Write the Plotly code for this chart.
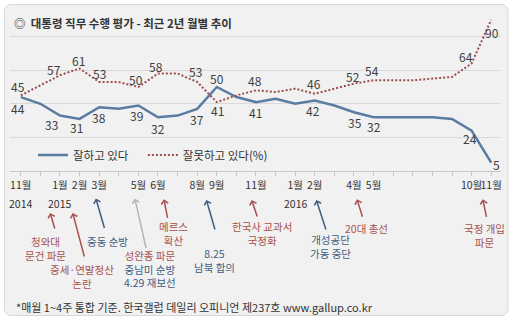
import plotly.graph_objects as go

# ---------------- data ----------------
months = ["2014-11", "2014-12", "2015-01", "2015-02", "2015-03", "2015-04", "2015-05",
          "2015-06", "2015-07", "2015-08", "2015-09", "2015-10", "2015-11", "2015-12",
          "2016-01", "2016-02", "2016-03", "2016-04", "2016-05", "2016-06", "2016-07",
          "2016-08", "2016-09", "2016-10", "2016-11"]
approve = [44, 40, 33, 31, 38, 37, 39, 32, 33, 37, 50, 44, 41, 43, 40, 42, 39, 35, 32,
           32, 32, 32, 31, 24, 5]
disapprove = [45, 51, 57, 61, 53, 53, 50, 58, 58, 53, 41, 45, 48, 47, 49, 46, 49, 52, 54,
              54, 54, 55, 56, 64, 90]
tick_labels = ["11월", "", "1월", "2월", "3월", "", "5월", "6월", "", "8월", "9월", "",
               "11월", "", "1월", "2월", "", "4월", "5월", "", "", "", "", "10월", "11월"]
year_ticks = [0, 2, 14]
year_labels = ["2014", "2015", "2016"]
labeled_idx = [0, 2, 3, 4, 6, 7, 9, 10, 12, 15, 17, 18, 23, 24]
series_names = ["잘하고 있다", "잘못하고 있다(%)"]
title_text = "◎  대통령 직무 수행 평가 - 최근 2년 월별 추이"
footer_text = "*매월 1~4주 통합 기준. 한국갤럽 데일리 오피니언 제237호 www.gallup.co.kr"

# events: (month position, text lines, line colour keys, arrow colour key)
event_pos = [1.5, 2.65, 3.83, 5.82, 7.3, 9.47, 11.78, 15.08, 17.15, 23.57]
event_lines = [["청와대", "문건 파문"], ["증세·연말정산", "논란"], ["중동 순방"],
               ["성완종 파문", "중남미 순방", "4.29 재보선"], ["메르스", "확산"],
               ["8.25", "남북 합의"], ["한국사 교과서", "국정화"], ["개성공단", "가동 중단"],
               ["20대 총선"], ["국정 개입", "파문"]]
event_line_kind = [["r", "r"], ["r", "r"], ["b"], ["r", "b", "b"], ["r", "r"], ["b", "b"],
                   ["r", "r"], ["b", "b"], ["r"], ["r", "r"]]
event_arrow_kind = ["r", "r", "b", "g", "r", "b", "r", "b", "r", "r"]

# ---------------- styling / layout geometry (pixels) ----------------
W, H = 516, 326
ML, MR, MT, MB = 10, 14.5, 3, 155
PW = W - ML - MR
PH = H - MT - MB
XR = [-0.55, 24.5]
YR = [0, 100]

C_APP = "#5a7ba2"
C_DIS = "#9d4c4c"
C_TXT = "#404040"
KIND_COL = {"r": "#a5514d", "b": "#3f5d83", "g": "#b4b4b4"}
FONT = "Noto Sans CJK KR"
EV_FONT = 10.5
EV_LINE_H = 13.65

def px(xp):
    return (xp - ML) / PW

def py(yp):
    return (MT + PH - yp) / PH

# label offsets in pixels (dx, dy down)
app_off = [(-3, 11), (-8, 9), (-3, 9), (0, 10), (-2, 10), (0, 11), (0, 11), (0, -9),
           (0, 10), (-2, 10), (1, 10), (0, 9), (-2, 8), (5, 2)]
dis_off = [(-3, -9), (-6, -6), (-1, -8), (0, -8), (-2, -8), (-2, -7), (-2, -10), (1, 8),
           (-1, -10), (-1, -10), (-1, -7), (-2, -10), (-6, -7), (1, 13)]

# event geometry: head y (px), tail offset (ax, ay), text dx, first text line centre y
ev_head_y = [213, 213, 198.5, 198.5, 199.3, 200, 200, 200, 199.3, 199.3]
ev_tail = [(5, 17), (12, 45), (9, 31), (11.5, 51), (4, 20), (9, 31), (6, 18), (10, 31),
           (6, 19), (4, 19)]
ev_text_dx = [-5, 9, 12, 15, 10, 8, 10, 14, 10, 2]
ev_text_y = [241.7, 270, 241.7, 255.3, 226.7, 253.3, 226.7, 240, 228.3, 228.3]

x = list(range(len(months)))

fig = go.Figure()
fig.add_trace(go.Scatter(x=x, y=approve, mode="lines", name=series_names[0],
                         line=dict(color=C_APP, width=2.5), hoverinfo="skip",
                         legend="legend"))
fig.add_trace(go.Scatter(x=x, y=disapprove, mode="lines", name=series_names[1],
                         line=dict(color=C_DIS, width=2, dash="2px,2px"), hoverinfo="skip",
                         legend="legend2"))

ann = []
for k, i in enumerate(labeled_idx):
    dx, dy = app_off[k]
    ann.append(dict(x=x[i], y=approve[i], xref="x", yref="y", text=str(approve[i]),
                    showarrow=False, xshift=dx, yshift=-dy,
                    font=dict(size=12, color=C_TXT, family=FONT)))
    dx, dy = dis_off[k]
    ann.append(dict(x=x[i], y=disapprove[i], xref="x", yref="y", text=str(disapprove[i]),
                    showarrow=False, xshift=dx, yshift=-dy,
                    font=dict(size=12, color=C_TXT, family=FONT)))

for t, lab in zip(year_ticks, year_labels):
    ann.append(dict(x=x[t], y=py(203.3), xref="x", yref="paper", text=lab, showarrow=False,
                    font=dict(size=10.5, color="#333333", family=FONT), yanchor="middle"))

for e in range(len(event_pos)):
    hy = ev_head_y[e]
    ax_, ay_ = ev_tail[e]
    ann.append(dict(x=event_pos[e], y=py(hy), xref="x", yref="paper", text="",
                    showarrow=True, arrowhead=4, arrowsize=0.9, arrowwidth=1.5,
                    arrowcolor=KIND_COL[event_arrow_kind[e]], ax=ax_, ay=ay_,
                    axref="pixel", ayref="pixel", standoff=0, startstandoff=0))
    lines = event_lines[e]
    txt = "<br>".join(f"<span style='color:{KIND_COL[k]}'>{ln}</span>"
                      for ln, k in zip(lines, event_line_kind[e]))
    centre = ev_text_y[e] + (len(lines) - 1) * EV_LINE_H / 2
    ann.append(dict(x=event_pos[e], y=py(centre), xref="x", yref="paper", text=txt,
                    showarrow=False, xshift=ev_text_dx[e], yanchor="middle",
                    xanchor="center", align="center",
                    font=dict(size=EV_FONT, color=KIND_COL[event_line_kind[e][0]],
                              family=FONT)))

ann.append(dict(x=px(12), y=py(23), xref="paper", yref="paper", text="<b>" + title_text + "</b>",
                showarrow=False, xanchor="left", yanchor="middle",
                font=dict(size=11.5, color="#333333", family=FONT)))
ann.append(dict(x=px(14), y=py(306.5), xref="paper", yref="paper", text=footer_text,
                showarrow=False, xanchor="left", yanchor="middle",
                font=dict(size=11, color="#333333", family=FONT)))

# rounded panel
x0, y0, x1, y1, r = 4.5, 4.5, 508.5, 315.5, 7
def P(a, b):
    return f"{px(a):.5f},{py(b):.5f}"
path = (f"M{P(x0 + r, y0)} L{P(x1 - r, y0)} Q{P(x1, y0)} {P(x1, y0 + r)} "
        f"L{P(x1, y1 - r)} Q{P(x1, y1)} {P(x1 - r, y1)} L{P(x0 + r, y1)} "
        f"Q{P(x0, y1)} {P(x0, y1 - r)} L{P(x0, y0 + r)} Q{P(x0, y0)} {P(x0 + r, y0)} Z")
shapes = [dict(type="path", xref="paper", yref="paper", path=path, fillcolor="#f1f1f1",
               line=dict(color="#d8d8d8", width=1), layer="below")]

legend_common = dict(orientation="h", y=py(155), xanchor="left", yanchor="middle",
                     bgcolor="rgba(0,0,0,0)", itemwidth=30,
                     font=dict(size=11.5, color="#333333", family=FONT))

fig.update_layout(
    width=W, height=H,
    margin=dict(l=ML, r=MR, t=MT, b=MB, pad=0),
    paper_bgcolor="white", plot_bgcolor="rgba(0,0,0,0)",
    font=dict(family=FONT, color="#333333"),
    showlegend=True,
    legend=dict(x=px(33), **legend_common),
    legend2=dict(x=px(143), **legend_common),
    xaxis=dict(range=XR, tickmode="array", tickvals=x, ticktext=tick_labels, tickangle=0,
               showgrid=False, zeroline=False, showline=True, linecolor="#c8c8c8",
               linewidth=1, ticks="outside", ticklen=4, tickcolor="#c8c8c8",
               tickfont=dict(size=10.5, color="#333333", family=FONT), fixedrange=True),
    yaxis=dict(range=YR, tickmode="array", tickvals=[20, 40, 60, 80], showticklabels=False,
               showgrid=True, gridcolor="#d9d9d9", gridwidth=1, zeroline=False,
               showline=False, ticks="", fixedrange=True),
    annotations=ann,
    shapes=shapes,
)

fig.write_html("out.html")
